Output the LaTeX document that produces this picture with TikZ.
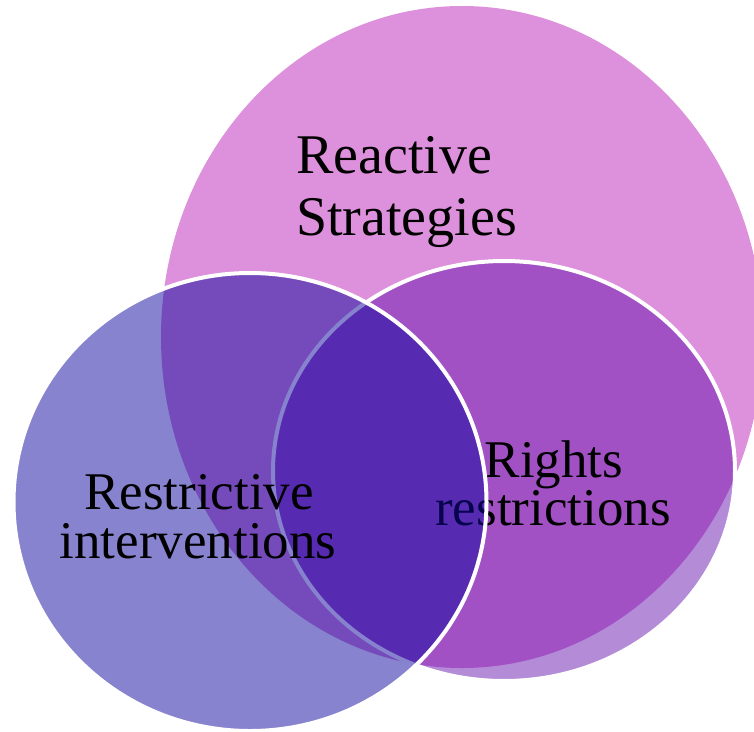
\documentclass[tikz,border=0pt]{standalone}
\usepackage{fontspec}
\setmainfont{Liberation Serif}
\usetikzlibrary{shapes.geometric}
\definecolor{pinkfill}{RGB}{221,144,219}
\definecolor{rightfill}{RGB}{97,13,172}
\definecolor{leftfill}{RGB}{15,7,159}
\begin{document}
\begin{tikzpicture}[x=1pt,y=-1pt,
  blob/.style={ellipse, inner sep=0pt, outer sep=0pt},
  ring/.style={blob, draw=white, line width=4pt},
  lbl/.style={inner sep=0pt, font=\fontsize{53}{60}\selectfont, text=black},
  bigl/.style={lbl, font=\fontsize{56}{62}\selectfont}]
\useasboundingbox (0,0) rectangle (754,731);
\clip (0,0) rectangle (754,731);
\node[blob, fill=pinkfill, minimum width=602pt, minimum height=662pt] (react) at (462,337) {};
\node[bigl, anchor=base west] (t1) at (296,173) {Reactive};
\node[bigl, anchor=base west] (t2) at (296,235) {Strategies};
\node[ring, fill=rightfill, fill opacity=0.48, minimum width=462pt, minimum height=420pt] (rights) at (504,471) {};
\node[lbl, anchor=base] (r1) at (554,477) {Rights};
\node[lbl, anchor=base] (r2) at (553,525) {restrictions};
\node[ring, fill=leftfill, fill opacity=0.5, minimum width=473pt, minimum height=458pt] (restr) at (250,502) {};
\node[lbl, anchor=base] (l1) at (199,509) {Restrictive};
\node[lbl, anchor=base] (l2) at (198,558) {interventions};
\end{tikzpicture}
\end{document}
